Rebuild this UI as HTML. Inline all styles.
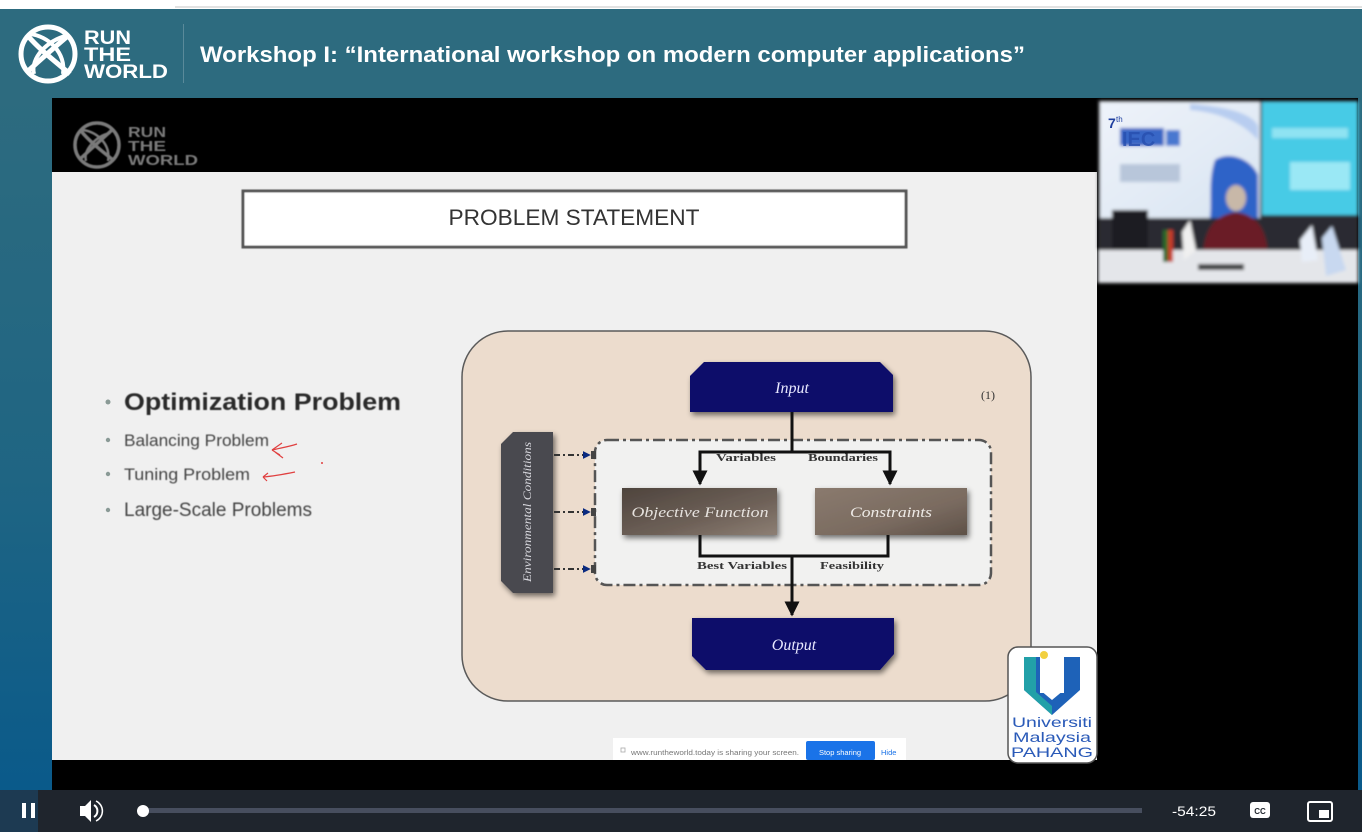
<!DOCTYPE html>
<html><head><meta charset="utf-8">
<style>
html,body{margin:0;padding:0;width:1362px;height:832px;overflow:hidden;background:#fff;}
svg{display:block;}
</style></head>
<body>
<svg width="1362" height="832" viewBox="0 0 1362 832" xmlns="http://www.w3.org/2000/svg">
<defs>
  <linearGradient id="side" x1="0" y1="0" x2="0" y2="1">
    <stop offset="0" stop-color="#2d6b7f"/>
    <stop offset="0.55" stop-color="#1f6583"/>
    <stop offset="1" stop-color="#0a5a8a"/>
  </linearGradient>
  <linearGradient id="brown1" x1="0" y1="0" x2="1" y2="1">
    <stop offset="0" stop-color="#4e443d"/>
    <stop offset="0.6" stop-color="#6e6158"/>
    <stop offset="1" stop-color="#8d7f74"/>
  </linearGradient>
  <linearGradient id="brown2" x1="0" y1="0" x2="1" y2="1">
    <stop offset="0" stop-color="#8a7a6e"/>
    <stop offset="0.6" stop-color="#7a6b60"/>
    <stop offset="1" stop-color="#5e5148"/>
  </linearGradient>
  <linearGradient id="poster" x1="0" y1="0" x2="1" y2="1">
    <stop offset="0" stop-color="#eef3fa"/>
    <stop offset="0.8" stop-color="#dde7f3"/>
    <stop offset="1" stop-color="#c8d8ee"/>
  </linearGradient>
  <filter id="sh" x="-20%" y="-20%" width="140%" height="160%">
    <feGaussianBlur in="SourceAlpha" stdDeviation="3"/>
    <feOffset dx="2" dy="3"/>
    <feComponentTransfer><feFuncA type="linear" slope="0.55"/></feComponentTransfer>
    <feMerge><feMergeNode/><feMergeNode in="SourceGraphic"/></feMerge>
  </filter>
  <filter id="blur1"><feGaussianBlur stdDeviation="0.6"/></filter>
  <filter id="blur2"><feGaussianBlur stdDeviation="1.5"/></filter>
  <marker id="ah" viewBox="0 0 10 10" refX="9" refY="5" markerWidth="5" markerHeight="5" orient="auto">
    <path d="M0,0 L10,5 L0,10 z" fill="#111"/>
  </marker>
  <marker id="ahb" viewBox="0 0 10 10" refX="9" refY="5" markerWidth="4" markerHeight="4" orient="auto">
    <path d="M0,0 L10,5 L0,10 z" fill="#0a2a80"/>
  </marker>
</defs>

<rect x="0" y="0" width="1362" height="9" fill="#ffffff"/>
<rect x="175" y="6" width="1187" height="2" fill="#e2e2e2"/>

<rect x="0" y="9" width="1362" height="89" fill="#2d6b7f"/>
<rect x="0" y="98" width="52" height="692" fill="url(#side)"/>
<rect x="1358" y="98" width="4" height="692" fill="url(#side)"/>

<g fill="none" stroke="#ffffff" stroke-width="5">
  <circle cx="48" cy="54" r="27"/>
  <path d="M28,36 C40,50 56,62 70,74"/>
  <path d="M27,72 C40,60 56,46 69,35"/>
  <path d="M34,74 C30,58 48,40 66,36" stroke-width="4"/>
  <path d="M30,34 C48,36 66,52 63,74" stroke-width="4"/>
</g>
<g fill="#ffffff" font-family="Liberation Sans, sans-serif" font-weight="bold" font-size="19">
  <text x="84" y="44" textLength="47" lengthAdjust="spacingAndGlyphs">RUN</text>
  <text x="84" y="61" textLength="47" lengthAdjust="spacingAndGlyphs">THE</text>
  <text x="84" y="78" textLength="84" lengthAdjust="spacingAndGlyphs">WORLD</text>
</g>
<rect x="183" y="24" width="1" height="59" fill="#5a8a9a"/>
<text x="200" y="62" fill="#ffffff" font-family="Liberation Sans, sans-serif" font-weight="bold" font-size="22" textLength="825" lengthAdjust="spacingAndGlyphs">Workshop I: “International workshop on modern computer applications”</text>

<rect x="52" y="98" width="1306" height="692" fill="#000"/>

<rect x="52" y="172" width="1045" height="588" fill="#f0f0f0"/>
<g fill="none" stroke="#7a7a7a" stroke-width="3.5" filter="url(#blur1)">
  <circle cx="97" cy="145" r="22"/>
  <path d="M81,131 C90,142 102,151 113,160"/>
  <path d="M80,159 C90,150 102,139 112,130"/>
  <path d="M86,161 C83,150 96,136 110,133" stroke-width="2.5"/>
  <path d="M83,130 C97,132 111,144 108,161" stroke-width="2.5"/>
</g>
<g fill="#7a7a7a" font-family="Liberation Sans, sans-serif" font-weight="bold" font-size="15" filter="url(#blur1)">
  <text x="128" y="137" textLength="38" lengthAdjust="spacingAndGlyphs">RUN</text>
  <text x="128" y="151" textLength="38" lengthAdjust="spacingAndGlyphs">THE</text>
  <text x="128" y="165" textLength="70" lengthAdjust="spacingAndGlyphs">WORLD</text>
</g>

<rect x="243" y="191" width="663" height="56" fill="#ffffff" stroke="#555" stroke-width="3" filter="url(#blur1)"/>
<text x="574" y="225" text-anchor="middle" fill="#333" font-family="Liberation Sans, sans-serif" font-size="22" textLength="251" lengthAdjust="spacingAndGlyphs">PROBLEM STATEMENT</text>

<g fill="#8a9a96">
  <circle cx="108" cy="402" r="2.5"/>
  <circle cx="108" cy="440" r="2.2"/>
  <circle cx="108" cy="474" r="2.2"/>
  <circle cx="108" cy="510" r="2.2"/>
</g>
<g font-family="Liberation Sans, sans-serif" filter="url(#blur1)">
  <text x="124" y="410" fill="#2a2a2a" font-weight="bold" font-size="24" textLength="277" lengthAdjust="spacingAndGlyphs">Optimization Problem</text>
  <text x="124" y="446" fill="#444" font-size="17" textLength="145" lengthAdjust="spacingAndGlyphs">Balancing Problem</text>
  <text x="124" y="480" fill="#444" font-size="17" textLength="126" lengthAdjust="spacingAndGlyphs">Tuning Problem</text>
  <text x="124" y="516" fill="#444" font-size="19" textLength="188" lengthAdjust="spacingAndGlyphs">Large-Scale Problems</text>
</g>
<g fill="none" stroke="#e04040" stroke-width="1.2">
  <path d="M297,444 C288,447 280,448 272,450"/>
  <path d="M272,450 L282,443 M272,450 L280,455 M275,452 L283,458"/>
  <path d="M295,472 C285,474 275,476 263,477"/>
  <path d="M263,477 L268,473 M263,477 L267,481"/>
</g>
<circle cx="322" cy="463" r="1" fill="#e04040"/>

<rect x="462" y="331" width="569" height="370" rx="46" ry="46" fill="#ecdccd" stroke="#5a5a5a" stroke-width="1.5"/>

<rect x="595" y="440" width="396" height="145" rx="12" ry="12" fill="#f1f1f0" stroke="#555" stroke-width="2.5" stroke-dasharray="12,4,3,4"/>

<path d="M513,432 L553,432 L553,593 L513,593 L501,581 L501,444 Z" fill="#4a4a50" filter="url(#sh)"/>
<text transform="translate(531,512) rotate(-90)" text-anchor="middle" fill="#d8d8de" font-family="Liberation Serif, serif" font-style="italic" font-size="12" textLength="140" lengthAdjust="spacingAndGlyphs">Environmental Conditions</text>
<g stroke="#333" stroke-width="2" stroke-dasharray="6,3,2,3" marker-end="url(#ahb)">
  <line x1="554" y1="455" x2="590" y2="455"/>
  <line x1="554" y1="512" x2="590" y2="512"/>
  <line x1="554" y1="569" x2="590" y2="569"/>
</g>
<g fill="#444">
  <rect x="591" y="451" width="5" height="8"/>
  <rect x="591" y="508" width="5" height="8"/>
  <rect x="591" y="565" width="5" height="8"/>
</g>

<path d="M704,362 L880,362 L893,375 L893,412 L690,412 L690,376 Z" fill="#08086a" filter="url(#sh)"/>
<text x="792" y="393" text-anchor="middle" fill="#e8e8ff" font-family="Liberation Serif, serif" font-style="italic" font-size="16">Input</text>
<text x="988" y="399" text-anchor="middle" fill="#333" font-family="Liberation Serif, serif" font-size="12">(1)</text>

<g stroke="#111" stroke-width="3" fill="none">
  <line x1="792" y1="412" x2="792" y2="452"/>
  <path d="M700,484 L700,452 L890,452 L890,484" marker-end="url(#ah)"/>
  <line x1="700" y1="452" x2="700" y2="484" marker-end="url(#ah)"/>
</g>
<g font-family="Liberation Serif, serif" font-weight="bold" font-size="10.5" fill="#333">
  <text x="746" y="461" text-anchor="middle" textLength="60" lengthAdjust="spacingAndGlyphs">Variables</text>
  <text x="843" y="461" text-anchor="middle" textLength="70" lengthAdjust="spacingAndGlyphs">Boundaries</text>
</g>

<rect x="622" y="488" width="155" height="47" fill="url(#brown1)" filter="url(#sh)"/>
<text x="700" y="517" text-anchor="middle" fill="#e6e2de" font-family="Liberation Serif, serif" font-style="italic" font-size="15" textLength="137" lengthAdjust="spacingAndGlyphs">Objective Function</text>
<rect x="815" y="488" width="152" height="47" fill="url(#brown2)" filter="url(#sh)"/>
<text x="891" y="517" text-anchor="middle" fill="#eeeae6" font-family="Liberation Serif, serif" font-style="italic" font-size="15" textLength="82" lengthAdjust="spacingAndGlyphs">Constraints</text>

<g stroke="#111" stroke-width="3" fill="none">
  <path d="M700,535 L700,556 L888,556 L888,535"/>
  <line x1="792" y1="556" x2="792" y2="615" marker-end="url(#ah)"/>
</g>
<g font-family="Liberation Serif, serif" font-weight="bold" font-size="10.5" fill="#333">
  <text x="742" y="569" text-anchor="middle" textLength="90" lengthAdjust="spacingAndGlyphs">Best Variables</text>
  <text x="852" y="569" text-anchor="middle" textLength="64" lengthAdjust="spacingAndGlyphs">Feasibility</text>
</g>

<path d="M692,618 L894,618 L894,654 L880,670 L706,670 L692,656 Z" fill="#08086a" filter="url(#sh)"/>
<text x="794" y="650" text-anchor="middle" fill="#e8e8ff" font-family="Liberation Serif, serif" font-style="italic" font-size="16">Output</text>

<rect x="1008" y="647" width="89" height="116" rx="10" ry="10" fill="#ffffff" stroke="#555" stroke-width="1.5"/>
<path d="M1024,657 L1040,657 L1040,690 L1052,700 L1064,690 L1064,657 L1080,657 L1080,690 L1052,715 L1024,690 Z" fill="#1e62b8"/>
<path d="M1024,657 L1036,657 L1036,692 L1052,706 L1052,715 L1024,690 Z" fill="#22a0a8"/>
<rect x="1040" y="657" width="24" height="36" fill="#ffffff"/>
<circle cx="1044" cy="655" r="4" fill="#f2d040"/>
<g font-family="Liberation Sans, sans-serif" font-size="14" fill="#2a5ab8" text-anchor="middle">
  <text x="1052" y="727" textLength="80" lengthAdjust="spacingAndGlyphs">Universiti</text>
  <text x="1052" y="742" textLength="78" lengthAdjust="spacingAndGlyphs">Malaysia</text>
  <text x="1052" y="757" textLength="82" lengthAdjust="spacingAndGlyphs">PAHANG</text>
</g>

<rect x="613" y="738" width="293" height="22" fill="#ffffff"/>
<rect x="621" y="748" width="4" height="4" fill="none" stroke="#aaa" stroke-width="0.8"/>
<text x="631" y="755" fill="#777" font-family="Liberation Sans, sans-serif" font-size="7" textLength="168" lengthAdjust="spacingAndGlyphs">www.runtheworld.today is sharing your screen.</text>
<rect x="806" y="741" width="69" height="19" rx="2" fill="#1a73e8"/>
<text x="840" y="755" text-anchor="middle" fill="#ffffff" font-family="Liberation Sans, sans-serif" font-size="7.5">Stop sharing</text>
<text x="881" y="755" fill="#1a73e8" font-family="Liberation Sans, sans-serif" font-size="7.5">Hide</text>

<!-- camera thumbnail -->
<g filter="url(#blur2)">
  <rect x="1098" y="100" width="260" height="183" fill="#2e2f33"/>
  <rect x="1100" y="102" width="160" height="116" fill="url(#poster)"/>
  <path d="M1190,104 C1220,106 1252,112 1258,126 L1258,140 C1240,120 1215,112 1190,110 Z" fill="#b8cdf0"/>
  <path d="M1215,160 C1230,150 1252,160 1258,175 L1258,218 L1210,218 C1212,200 1208,180 1215,160 Z" fill="#2f63c8"/>
  <rect x="1120" y="128" width="44" height="18" fill="#3766c6"/>
  <rect x="1166" y="130" width="14" height="16" fill="#4a78d0"/>
  <rect x="1120" y="164" width="60" height="18" fill="#b8c6da"/>
  <rect x="1262" y="102" width="96" height="113" fill="#46cbe6"/>
  <rect x="1272" y="128" width="76" height="10" fill="#8fe3f2"/>
  <rect x="1290" y="162" width="60" height="28" fill="#9ae8f5"/>
  <rect x="1098" y="218" width="260" height="36" fill="#2c2c30"/>
  <rect x="1112" y="210" width="36" height="42" fill="#1c1c20"/>
  <ellipse cx="1236" cy="198" rx="10" ry="13" fill="#c8b8a8"/>
  <path d="M1203,254 C1205,228 1215,215 1236,212 C1258,215 1266,230 1268,254 Z" fill="#6a1e26"/>
  <rect x="1098" y="250" width="260" height="33" fill="#e4e6ea"/>
  <rect x="1198" y="264" width="46" height="6" fill="#3a3a3e"/>
  <rect x="1163" y="230" width="5" height="32" fill="#2a6a2a"/>
  <rect x="1168" y="230" width="5" height="32" fill="#c83a2a"/>
  <path d="M1182,232 L1190,220 L1196,250 L1184,260 Z" fill="#f0f0f0"/>
  <path d="M1300,240 L1312,225 L1318,260 L1302,262 Z" fill="#e8eef8"/>
  <path d="M1322,238 L1332,226 L1346,270 L1326,276 Z" fill="#c8d8f0"/>
</g>
<text x="1108" y="128" fill="#1f3f9f" font-family="Liberation Sans, sans-serif" font-weight="bold" font-size="14">7</text>
<text x="1116" y="122" fill="#1f3f9f" font-family="Liberation Sans, sans-serif" font-size="8">th</text>
<text x="1122" y="146" fill="#2850b0" font-family="Liberation Sans, sans-serif" font-weight="bold" font-size="20" opacity="0.85">IEC</text>

<!-- control bar -->
<rect x="0" y="790" width="1362" height="42" fill="#1f252d"/>
<rect x="0" y="790" width="38" height="42" fill="#1d3a52"/>
<rect x="22" y="803" width="4" height="15" fill="#fff"/>
<rect x="31" y="803" width="4" height="15" fill="#fff"/>
<path d="M80,806 L85,806 L91,800 L91,822 L85,816 L80,816 Z" fill="#fff"/>
<path d="M94,805 A7,7 0 0 1 94,817" fill="none" stroke="#fff" stroke-width="2"/>
<path d="M96,801 A11,11 0 0 1 96,821" fill="none" stroke="#fff" stroke-width="1.5"/>
<rect x="140" y="808" width="1002" height="5" fill="#474e5e"/>
<circle cx="143" cy="811" r="6" fill="#fff"/>
<text x="1172" y="816" fill="#fff" font-family="Liberation Sans, sans-serif" font-size="14" textLength="44" lengthAdjust="spacingAndGlyphs">-54:25</text>
<rect x="1250" y="802" width="20" height="16" rx="3" fill="#fff"/>
<text x="1260" y="814" text-anchor="middle" fill="#1f252d" font-family="Liberation Sans, sans-serif" font-weight="bold" font-size="8">CC</text>
<rect x="1308" y="802" width="24" height="19" rx="2" fill="none" stroke="#fff" stroke-width="2"/>
<rect x="1319" y="810" width="10" height="8" fill="#fff"/>
</svg>
</body></html>
